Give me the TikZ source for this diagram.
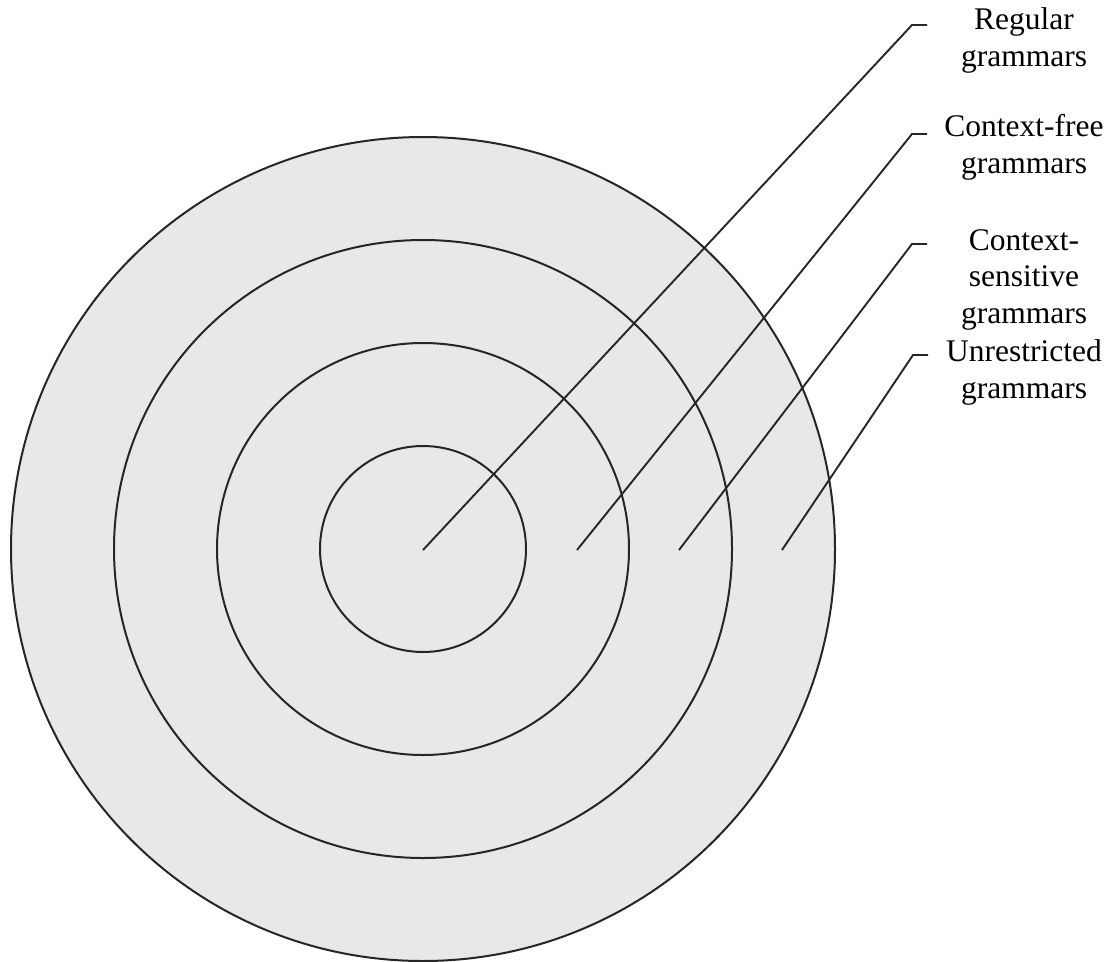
\documentclass[tikz,border=0pt]{standalone}
\usepackage{fontspec}
\setmainfont{Liberation Serif}
\begin{document}
\begin{tikzpicture}[x=1pt,y=-1pt,
  ring/.style={draw=black!85,line width=2pt},
  pointer/.style={draw=black!85,line width=1.9pt},
  label/.style={align=center,inner sep=0pt,anchor=base,font=\fontsize{31.5}{36.5}\selectfont}]
\useasboundingbox (0,0) rectangle (1116,961);
\coordinate (c) at (423,549);
\fill[black!9] (c) circle[radius=412];
\draw[ring] (c) circle[radius=412];
\draw[ring] (c) circle[radius=309];
\draw[ring] (c) circle[radius=206];
\draw[ring] (c) circle[radius=103];
% labels (anchor = baseline of last line)
\node[label] (l1) at (1024,66) {Regular\\grammars};
\node[label] (l2) at (1024,173) {Context-free\\grammars};
\node[label] (l3) at (1024,323) {Context-\\sensitive\\grammars};
\node[label] (l4) at (1024,398) {Unrestricted\\grammars};
% pointer coordinates
\coordinate (s1) at (423,550);
\coordinate (s2) at (577,550);
\coordinate (s3) at (679,550);
\coordinate (s4) at (782,550);
\coordinate (k1) at (912,25);
\coordinate (k2) at (912,134);
\coordinate (k3) at (912,244);
\coordinate (k4) at (913,355);
\coordinate (e1) at (927,25);
\coordinate (e2) at (927,134);
\coordinate (e3) at (927,244);
\coordinate (e4) at (928,355);
\draw[pointer] (s1) -- (k1) -- (e1);
\draw[pointer] (s2) -- (k2) -- (e2);
\draw[pointer] (s3) -- (k3) -- (e3);
\draw[pointer] (s4) -- (k4) -- (e4);
\end{tikzpicture}
\end{document}
